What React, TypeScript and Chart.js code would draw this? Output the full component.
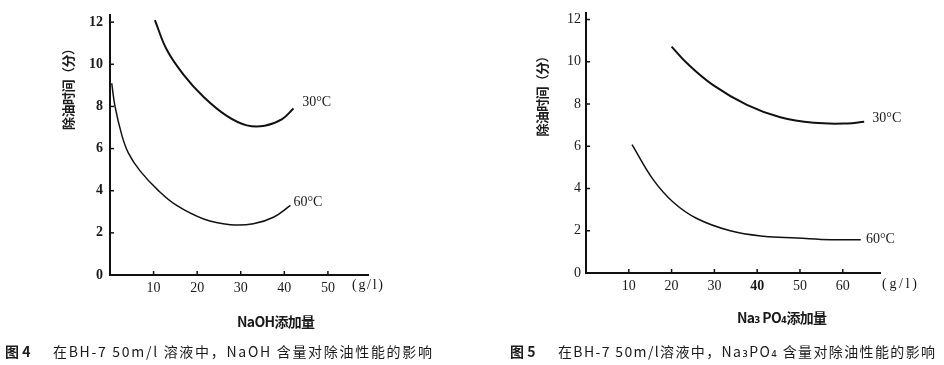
import React, { useEffect, useRef } from "react";
import { Chart, registerables } from "chart.js";
Chart.register(...registerables);

// Figure 4: NaOH
const naohConc30 = [10.3, 13.0, 16.9, 21.5, 26.8, 31.4, 35.5, 39.5, 42.1];
const naohTime30 = [12.1, 10.7, 9.5, 8.45, 7.55, 7.1, 7.08, 7.4, 7.9];
const naohConc60 = [0.4, 1.15, 2.7, 4.2, 6.9, 11.0, 15.3, 21.5, 27.6, 32.9, 37.5, 41.4];
const naohTime60 = [9.1, 8.0, 6.65, 5.8, 4.94, 4.03, 3.3, 2.66, 2.39, 2.43, 2.74, 3.3];

// Figure 5: Na3PO4
const phosConc30 = [20.0, 23.5, 29.8, 37.6, 45.4, 53.2, 61.1, 65.0];
const phosTime30 = [10.72, 9.95, 8.88, 7.96, 7.37, 7.11, 7.08, 7.16];
const phosConc60 = [10.75, 15.7, 20.4, 25.9, 33.7, 41.5, 49.3, 57.2, 64.2];
const phosTime60 = [6.08, 4.42, 3.35, 2.58, 2.0, 1.74, 1.66, 1.58, 1.58];

const yTickValues = [0, 2, 4, 6, 8, 10, 12];
const naohXTicks = [10, 20, 30, 40, 50];
const phosXTicks = [10, 20, 30, 40, 50, 60];
const curveLabels = ["30°C", "60°C"];

const yTitle = "除油时间（分）";
const naohXTitle = "NaOH添加量";
const phosXTitle = "Na₃ PO₄添加量";
const naohCaptionNo = "图 4";
const naohCaption = "在BH-7 50m/l 溶液中，NaOH 含量对除油性能的影响";
const phosCaptionNo = "图 5";
const phosCaption = "在BH-7 50m/l溶液中，Na₃PO₄ 含量对除油性能的影响";
const unitLabel = "(g/l)";

const zip = (xs: number[], ys: number[]) => xs.map((x, i) => ({ x, y: ys[i] }));

const SERIF = "'Liberation Serif', 'DejaVu Serif', serif";
const CJK = "'Noto Sans CJK SC', 'DejaVu Sans', sans-serif";

function drawSpaced(ctx: CanvasRenderingContext2D, text: string, x: number, y: number, width: number, font: string) {
  ctx.font = font;
  (ctx as any).letterSpacing = "0px";
  const w = ctx.measureText(text).width;
  const n = Array.from(text).length;
  const ls = n > 1 ? (width - w) / (n - 1) : 0;
  (ctx as any).letterSpacing = ls + "px";
  ctx.textAlign = "left";
  ctx.textBaseline = "middle";
  ctx.fillText(text, x, y);
  (ctx as any).letterSpacing = "0px";
}

type Spec = {
  d30: { x: number; y: number }[];
  d60: { x: number; y: number }[];
  w30: number;
  w60: number;
  xMax: number;
  yMax: number;
  xTicks: number[];
  pad: { left: number; top: number; right: number; bottom: number };
  yWidth: number;
  xHeight: number;
  yLabelPad: number;
  yTickBold: boolean;
  boldX?: number;
  label30: [number, number];
  label60: [number, number];
  yTitleAt: [number, number, number];
  xTitle: string;
  xTitleAt: [number, number, number];
  capNo: string;
  capNoAt: [number, number];
  cap: string;
  capAt: [number, number, number];
  unitAt: [number, number, number];
};

function makeConfig(spec: Spec): any {
  const deco = {
    id: "deco",
    afterDraw(chart: any) {
      const ctx = chart.ctx as CanvasRenderingContext2D;
      const xs = chart.scales.x;
      const ys = chart.scales.y;
      const area = chart.chartArea;
      ctx.save();
      ctx.strokeStyle = "#111";
      ctx.lineWidth = 1.5;
      yTickValues.forEach((v) => {
        if (v === 0) return;
        const py = ys.getPixelForValue(v);
        ctx.beginPath();
        ctx.moveTo(area.left, py);
        ctx.lineTo(area.left + 4, py);
        ctx.stroke();
      });
      spec.xTicks.forEach((v) => {
        const px = xs.getPixelForValue(v);
        ctx.beginPath();
        ctx.moveTo(px, area.bottom);
        ctx.lineTo(px, area.bottom - 4);
        ctx.stroke();
      });
      ctx.fillStyle = "#1a1a1a";
      ctx.font = "14px " + SERIF;
      ctx.textAlign = "left";
      ctx.textBaseline = "middle";
      ctx.fillText(curveLabels[0], xs.getPixelForValue(spec.label30[0]), ys.getPixelForValue(spec.label30[1]));
      ctx.fillText(curveLabels[1], xs.getPixelForValue(spec.label60[0]), ys.getPixelForValue(spec.label60[1]));
      drawSpaced(ctx, unitLabel, spec.unitAt[0], spec.unitAt[1], spec.unitAt[2], "14px " + SERIF);
      ctx.save();
      ctx.translate(spec.yTitleAt[0], spec.yTitleAt[1]);
      ctx.rotate(-Math.PI / 2);
      drawSpaced(ctx, yTitle, -spec.yTitleAt[2] / 2, 0, spec.yTitleAt[2], "bold 13px " + CJK);
      ctx.restore();
      drawSpaced(ctx, spec.xTitle, spec.xTitleAt[0], spec.xTitleAt[1], spec.xTitleAt[2], "bold 14px " + CJK);
      ctx.font = "bold 14px " + CJK;
      ctx.textAlign = "left";
      ctx.fillText(spec.capNo, spec.capNoAt[0], spec.capNoAt[1]);
      drawSpaced(ctx, spec.cap, spec.capAt[0], spec.capAt[1], spec.capAt[2], "14px " + CJK);
      ctx.restore();
    },
  };
  return {
    type: "line",
    data: {
      datasets: [
        { label: curveLabels[0], data: spec.d30, borderColor: "#111", borderWidth: spec.w30, pointRadius: 0, tension: 0.4, fill: false },
        { label: curveLabels[1], data: spec.d60, borderColor: "#111", borderWidth: spec.w60, pointRadius: 0, tension: 0.4, fill: false },
      ],
    },
    options: {
      animation: false,
      responsive: false,
      maintainAspectRatio: false,
      layout: { padding: spec.pad },
      plugins: { legend: { display: false }, tooltip: { enabled: false }, title: { display: false } },
      scales: {
        x: {
          type: "linear",
          min: 0,
          max: spec.xMax,
          afterFit: (s: any) => { s.height = spec.xHeight; },
          grid: { display: false, drawTicks: false },
          border: { display: true, color: "#111", width: 2 },
          afterBuildTicks: (s: any) => { s.ticks = spec.xTicks.map((v) => ({ value: v })); },
          ticks: {
            padding: 5,
            maxRotation: 0,
            autoSkip: false,
            color: "#1a1a1a",
            font: (c: any) => ({ family: SERIF, size: 14, weight: c.tick && c.tick.value === spec.boldX ? "bold" : "normal" }),
            callback: (v: any) => String(v),
          },
        },
        y: {
          type: "linear",
          min: 0,
          max: spec.yMax,
          afterFit: (s: any) => { s.width = spec.yWidth; },
          grid: { display: false, drawTicks: false },
          border: { display: true, color: "#111", width: 2 },
          afterBuildTicks: (s: any) => { s.ticks = yTickValues.map((v) => ({ value: v })); },
          ticks: {
            padding: spec.yLabelPad,
            color: "#1a1a1a",
            font: { family: SERIF, size: 14, weight: spec.yTickBold ? "bold" : "normal" },
            callback: (v: any) => String(v),
          },
        },
      },
    },
    plugins: [deco],
  };
}

function ChartBox(props: { spec: Spec; left: number; width: number }) {
  const ref = useRef<HTMLCanvasElement | null>(null);
  useEffect(() => {
    if (!ref.current) return;
    const chart = new Chart(ref.current, makeConfig(props.spec));
    return () => chart.destroy();
  }, []);
  return (
    <div style={{ position: "absolute", left: props.left, top: 0, width: props.width, height: 365 }}>
      <canvas ref={ref} width={props.width} height={365} style={{ width: props.width, height: 365, display: "block" }} />
    </div>
  );
}

const naohSpec: Spec = {
  d30: zip(naohConc30, naohTime30),
  d60: zip(naohConc60, naohTime60),
  w30: 2,
  w60: 1.5,
  xMax: 59.2,
  yMax: 12.32,
  xTicks: naohXTicks,
  pad: { left: 0, top: 5, right: 102, bottom: 65 },
  yWidth: 110,
  xHeight: 25,
  yLabelPad: 7,
  yTickBold: true,
  label30: [44.1, 8.2],
  label60: [42.1, 3.47],
  yTitleAt: [68, 86, 88],
  xTitle: naohXTitle,
  xTitleAt: [237, 322, 78],
  capNo: naohCaptionNo,
  capNoAt: [5, 352],
  cap: naohCaption,
  capAt: [53, 352, 379],
  unitAt: [352, 285, 31],
};

const phosSpec: Spec = {
  d30: zip(phosConc30, phosTime30),
  d60: zip(phosConc60, phosTime60),
  w30: 2,
  w60: 1.5,
  xMax: 68.7,
  yMax: 12.29,
  xTicks: phosXTicks,
  pad: { left: 0, top: 6, right: 64, bottom: 67 },
  yWidth: 116,
  xHeight: 25,
  yLabelPad: 5,
  yTickBold: false,
  boldX: 40,
  label30: [66.9, 7.31],
  label60: [65.4, 1.6],
  yTitleAt: [72, 93, 87],
  xTitle: phosXTitle,
  xTitleAt: [267, 318, 90],
  capNo: phosCaptionNo,
  capNoAt: [40, 352],
  cap: phosCaption,
  capAt: [88, 352, 377],
  unitAt: [412, 284, 35],
};

export default function App() {
  useEffect(() => {
    document.body.style.margin = "0";
  }, []);
  return (
    <div style={{ position: "absolute", left: 0, top: 0, width: 944, height: 365, background: "#fff", overflow: "hidden" }}>
      <ChartBox spec={naohSpec} left={0} width={470} />
      <ChartBox spec={phosSpec} left={470} width={474} />
    </div>
  );
}
